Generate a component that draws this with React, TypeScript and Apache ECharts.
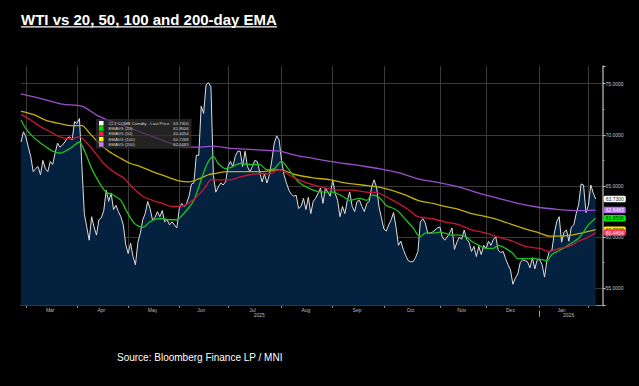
import React, { useEffect, useRef } from "react";
import * as echarts from "echarts";

// ---- text ----
const chartTitle = "WTI vs 20, 50, 100 and 200-day EMA";
const sourceNote = "Source: Bloomberg Finance LP / MNI";

// ---- calendar (NYMEX trading days) ----
const firstDay = "2025-02-27";
const lastAxisDay = "2026-02-10";
const exchangeHolidays = [
  "2025-04-18", "2025-05-26", "2025-06-19", "2025-07-04", "2025-09-01",
  "2025-11-27", "2025-12-25", "2026-01-01", "2026-01-19",
];
const monthNames = ["Jan", "Feb", "Mar", "Apr", "May", "Jun", "Jul", "Aug", "Sep", "Oct", "Nov", "Dec"];
const yearLabelMonths = ["2025-07", "2026-01"];

// ---- CL1 COMB Comdty, daily last price ----
const wtiClose = [
  // Feb
  69.3, 70.3,
  // Mar
  69.8, 68.8, 67.9, 66.4, 66.7, 66.9, 66.1, 67.5, 66.7, 66.4, 67.4, 67.1, 68.2, 69.2, 68.8, 69.0, 69.3, 69.7, 69.8, 69.5, 71.3,
  // Apr
  71.1, 71.6, 67.0, 62.3, 61.0, 59.7, 62.0, 61.0, 60.2, 61.7, 61.9, 62.6, 64.6, 63.5, 64.3, 62.7, 63.1, 62.5, 62.0, 61.2, 59.3,
  // May
  58.4, 59.4, 58.1, 57.3, 59.5, 60.4, 61.7, 62.3, 63.5, 62.8, 61.7, 61.9, 62.5, 62.0, 62.6, 61.5, 61.7, 61.2, 61.5, 61.2, 60.9,
  // Jun
  62.8, 63.3, 63.0, 63.3, 64.0, 65.2, 65.3, 68.0, 68.0, 72.8, 72.1, 74.9, 75.1, 74.7, 66.0, 64.4, 64.9, 65.3, 65.1, 65.4,
  // Jul
  66.9, 67.4, 66.9, 67.9, 68.4, 68.4, 66.9, 68.4, 66.9, 66.4, 66.9, 67.5, 67.4, 66.4, 65.4, 66.2, 65.3, 66.1, 67.5, 69.2, 69.9, 69.5,
  // Aug
  67.5, 66.1, 65.3, 64.6, 64.2, 64.0, 64.1, 62.8, 63.0, 63.8, 62.7, 63.9, 62.3, 63.5, 63.8, 64.3, 64.8, 63.3, 64.8, 64.4, 64.0,
  // Sep
  65.6, 64.3, 63.6, 62.0, 63.0, 62.3, 63.6, 64.4, 63.0, 62.5, 63.5, 63.6, 63.0, 62.5, 63.3, 63.5, 64.9, 65.6, 64.9, 63.0, 61.9,
  // Oct
  60.8, 60.6, 61.2, 61.7, 62.4, 61.0, 59.2, 59.6, 58.8, 58.2, 57.7, 57.6, 57.6, 58.0, 58.6, 61.5, 61.8, 61.4, 60.4, 60.4, 60.5, 60.7, 60.9,
  // Nov
  61.0, 60.0, 59.7, 60.0, 60.4, 60.9, 58.8, 59.5, 60.0, 59.8, 60.7, 59.8, 59.5, 58.6, 59.1, 58.1, 59.1, 58.3, 59.2,
  // Dec
  58.9, 59.6, 59.2, 59.8, 60.0, 58.7, 58.5, 58.6, 57.9, 57.3, 56.8, 55.4, 56.0, 56.4, 57.5, 57.8, 57.7, 57.6, 57.0, 58.0, 56.9, 57.8,
  // Jan
  57.8, 57.3, 56.1, 57.8, 58.6, 58.7, 60.4, 61.5, 62.0, 59.5, 60.5, 60.7, 59.6, 61.0, 61.2, 62.3, 63.2, 65.2, 65.1, 62.4,
  // Feb
  63.1, 65.1, 64.3, 63.73,
];

// ---- EMAVG readings as [trading-day index, value] ----
const ema20: [number, number][] = [
  [0, 71.45], [2, 70.6], [5, 69.8], [8, 69.2], [11, 68.7], [13, 68.4], [16, 68.2], [19, 68.5], [21, 68.8],
  [24, 69.3], [25, 69.0], [27, 67.9], [29, 66.7], [31, 65.8], [33, 65.0], [35, 64.4], [38, 64.1], [41, 63.6],
  [43, 62.7], [46, 61.5], [48, 61.1], [50, 60.95], [53, 61.5], [56, 61.8], [58, 61.8], [61, 61.7], [64, 61.7],
  [66, 62.1], [69, 62.9], [71, 63.6], [73, 64.9], [75, 66.3], [77, 67.4], [79, 67.9], [81, 67.2], [84, 66.7],
  [86, 66.8], [90, 67.2], [94, 67.1], [98, 67.1], [101, 66.6], [104, 66.7], [107, 67.4], [110, 66.6], [114, 65.4],
  [120, 64.6], [124, 64.4], [128, 64.4], [132, 64.0], [135, 63.6], [139, 63.8], [142, 63.6], [144, 64.1],
  [147, 63.9], [150, 63.1], [153, 62.8], [155, 62.5], [158, 61.7], [161, 60.9], [163, 60.2], [164, 60.05],
  [166, 60.4], [169, 60.4], [172, 60.5], [174, 60.4], [177, 60.2], [180, 60.2], [183, 60.0], [185, 59.6],
  [188, 59.2], [191, 58.9], [194, 58.9], [196, 59.2], [199, 58.9], [202, 58.4], [204, 57.9], [206, 57.9],
  [209, 57.9], [211, 57.9], [214, 57.8], [216, 57.7], [218, 58.3], [221, 58.7], [224, 59.1], [226, 59.4],
  [229, 59.9], [231, 60.5], [233, 61.2], [236, 61.8506],
];
const ema50: [number, number][] = [
  [0, 72.0], [4, 71.45], [8, 70.8], [12, 70.3], [16, 69.8], [20, 69.6], [24, 69.8], [27, 69.2], [30, 68.4],
  [34, 67.2], [38, 66.4], [42, 65.8], [46, 64.8], [50, 64.0], [54, 63.6], [58, 63.3], [62, 63.0], [65, 63.0],
  [68, 63.2], [71, 63.7], [74, 64.4], [76, 65.0], [78, 65.6], [82, 65.6], [86, 65.6], [90, 65.9], [94, 66.1],
  [98, 66.2], [102, 66.2], [106, 66.6], [110, 66.1], [114, 65.6], [120, 65.1], [125, 64.8], [131, 64.6],
  [136, 64.6], [142, 64.4], [147, 64.3], [151, 63.8], [155, 63.3], [159, 62.7], [163, 62.0], [169, 61.8],
  [174, 61.5], [180, 61.2], [185, 60.7], [191, 60.4], [196, 60.0], [202, 59.6], [207, 59.1], [213, 58.9],
  [217, 58.6], [221, 58.9], [225, 59.1], [229, 59.6], [233, 60.0], [236, 60.4454],
];
const ema100: [number, number][] = [
  [0, 72.3], [5, 72.0], [10, 71.45], [16, 71.1], [21, 70.9], [25, 70.9], [28, 70.2], [32, 69.2], [36, 68.4],
  [41, 67.7], [45, 67.2], [49, 66.9], [54, 66.4], [60, 65.9], [65, 65.5], [69, 65.4], [73, 65.7], [77, 66.1],
  [79, 66.2], [85, 66.4], [92, 66.4], [99, 66.4], [106, 66.6], [113, 66.1], [120, 65.8], [127, 65.6],
  [133, 65.3], [140, 65.1], [147, 64.9], [152, 64.6], [158, 64.1], [163, 63.6], [169, 63.3], [174, 63.0],
  [180, 62.7], [185, 62.3], [191, 62.0], [196, 61.7], [202, 61.2], [207, 60.8], [213, 60.4], [217, 60.1],
  [221, 60.1], [226, 60.2], [230, 60.4], [236, 60.7268],
];
const ema200: [number, number][] = [
  [0, 74.0], [9, 73.5], [17, 73.0], [25, 72.8], [32, 71.8], [41, 71.0], [50, 70.2], [60, 69.3], [68, 68.8],
  [73, 68.8], [79, 68.9], [85, 68.7], [92, 68.6], [99, 68.5], [106, 68.4], [113, 68.0], [120, 67.7],
  [127, 67.4], [133, 67.2], [140, 66.96], [147, 66.7], [155, 66.3], [163, 65.7], [172, 65.3], [180, 64.9],
  [188, 64.3], [196, 63.8], [204, 63.3], [213, 62.9], [221, 62.7], [229, 62.6], [236, 62.6483],
];

const seriesNames = [
  "CL1 COMB Comdty - Last Price",
  "EMAVG (20)",
  "EMAVG (50)",
  "EMAVG (100)",
  "EMAVG (200)",
];

const FONT = '"Liberation Sans", Arial, sans-serif';

function tradingDays(start: string, end: string, holidays: string[]): string[] {
  const out: string[] = [];
  const d = new Date(start + "T00:00:00Z");
  const e = new Date(end + "T00:00:00Z");
  while (d <= e) {
    const dow = d.getUTCDay();
    const iso = d.toISOString().slice(0, 10);
    if (dow !== 0 && dow !== 6 && !holidays.includes(iso)) out.push(iso);
    d.setUTCDate(d.getUTCDate() + 1);
  }
  return out;
}

function measure(text: string, font: string): number {
  const ctx = document.createElement("canvas").getContext("2d");
  if (!ctx) return text.length * 7.5;
  ctx.font = font;
  return ctx.measureText(text).width;
}

export default function App() {
  const ref = useRef<HTMLDivElement>(null);

  useEffect(() => {
    if (!ref.current) return;
    const chart = echarts.init(ref.current, undefined, { renderer: "svg" });

    const days = tradingDays(firstDay, lastAxisDay, exchangeHolidays);

    // month groups on the trading-day axis
    const groups: { key: string; start: number; end: number }[] = [];
    days.forEach((d, i) => {
      const k = d.slice(0, 7);
      const g = groups[groups.length - 1];
      if (g && g.key === k) g.end = i;
      else groups.push({ key: k, start: i, end: i });
    });
    const monthStarts = new Set(groups.slice(1).map((g) => g.start));
    const labelAt = new Map<number, string>(
      groups.slice(1, -1).map((g) => [Math.floor((g.start + g.end) / 2), g.key] as [number, string])
    );
    const yearStart = groups.find((g) => g.key.endsWith("-01"))!.start;

    const last = (a: [number, number][]) => a[a.length - 1][1];
    const lastVals = [wtiClose[wtiClose.length - 1], last(ema20), last(ema50), last(ema100), last(ema200)];
    const lastByName: Record<string, string> = {};
    seriesNames.forEach((n, i) => (lastByName[n] = lastVals[i].toFixed(4)));

    const legendColors = ["#ffffff", "#00e000", "#ff1a3c", "#ffff00", "#c77dff"];
    const lineColors = ["#dedede", "#1fc01f", "#c8163a", "#c4b100", "#9b4fcf"];
    const tagBg = ["#ffffff", "#00ee00", "#ff3355", "#ffee00", "#b06ee8"];
    const tagFg = ["#222222", "#111111", "#ffffff", "#111111", "#ffffff"];

    const endTag = (i: number) => ({
      show: true,
      formatter: () => lastVals[i].toFixed(4),
      distance: 8,
      fontSize: 5,
      fontFamily: FONT,
      color: tagFg[i],
      backgroundColor: tagBg[i],
      padding: [1, 2, 0.5, 2],
      borderRadius: 1.5,
    });

    const titleFont = `bold 15px ${FONT}`;
    const titleW = measure(chartTitle, titleFont);

    const emaSeries = (i: number, data: [number, number][]) => ({
      name: seriesNames[i],
      type: "line",
      data,
      symbol: "none",
      smooth: 0.3,
      itemStyle: { color: legendColors[i] },
      lineStyle: { color: lineColors[i], width: 1.3 },
      endLabel: endTag(i),
      emphasis: { disabled: true },
    });

    chart.setOption({
      animation: false,
      backgroundColor: "#000000",
      grid: { left: 21, right: 36, top: 66, bottom: 80.3 },
      legend: {
        data: seriesNames.map((n, i) => ({ name: n, itemStyle: { color: legendColors[i] } })),
        orient: "vertical",
        left: 96,
        top: 119,
        icon: "rect",
        itemWidth: 4.5,
        itemHeight: 4.5,
        itemGap: 0.8,
        padding: [2, 3, 2, 3],
        backgroundColor: "rgba(48,48,48,0.72)",
        selectedMode: false,
        textStyle: {
          color: "#d4d4d4",
          fontSize: 4.3,
          fontFamily: FONT,
          rich: {
            n: { width: 64, fontSize: 4.3, lineHeight: 5, color: "#d4d4d4", fontFamily: FONT },
            v: { width: 16, align: "right", fontSize: 4.2, lineHeight: 5, color: "#d4d4d4", fontFamily: FONT },
          },
        },
        formatter: (name: string) => `{n|${name}}{v|${lastByName[name]}}`,
      },
      xAxis: [
        {
          type: "category",
          data: days,
          boundaryGap: false,
          axisLine: { show: true, lineStyle: { color: "#8c8c8c", width: 1 } },
          axisTick: {
            show: true,
            interval: (i: number) => monthStarts.has(i),
            length: 2,
            lineStyle: { color: "#a0a0a0" },
          },
          axisLabel: {
            interval: (i: number) => labelAt.has(i),
            formatter: (_v: string, i: number) => {
              const key = labelAt.get(i);
              if (!key) return "";
              const m = monthNames[Number(key.slice(5, 7)) - 1];
              return yearLabelMonths.includes(key) ? `${m}\n{yr|${key.slice(0, 4)}}` : m;
            },
            color: "#bdbdbd",
            fontSize: 5,
            lineHeight: 5.4,
            fontFamily: FONT,
            margin: 1.5,
            rich: { yr: { fontSize: 5, lineHeight: 5.4, color: "#bdbdbd", padding: [0, 0, 0, 14], fontFamily: FONT } },
          },
          splitLine: {
            show: true,
            interval: (i: number) => monthStarts.has(i),
            lineStyle: { color: "#3a3a3a", width: 1 },
          },
        },
        {
          // year divider tick below the month labels
          type: "category",
          data: days,
          boundaryGap: false,
          position: "bottom",
          offset: 5,
          axisLine: { show: false },
          axisTick: {
            show: true,
            interval: (i: number) => i === yearStart,
            length: 6,
            lineStyle: { color: "#a0a0a0" },
          },
          axisLabel: { show: false },
          splitLine: { show: false },
        },
      ],
      yAxis: {
        type: "value",
        position: "right",
        min: 53.3,
        max: 76.73,
        axisLine: { show: true, lineStyle: { color: "#9c9c9c", width: 1.5 } },
        axisTick: { show: true, length: 2.5, lineStyle: { color: "#c0c0c0" } },
        minorTick: { show: true, splitNumber: 2, length: 1.5, lineStyle: { color: "#9a9a9a" } },
        axisLabel: {
          color: "#c6c6c6",
          fontSize: 5,
          fontFamily: FONT,
          margin: 2.5,
          showMinLabel: false,
          showMaxLabel: false,
          formatter: (v: number) => v.toFixed(4),
        },
        splitLine: {
          show: true,
          showMinLine: false,
          showMaxLine: false,
          lineStyle: { color: "#3a3a3a", width: 1 },
        },
        minorSplitLine: { show: false },
      },
      series: [
        {
          name: seriesNames[0],
          type: "line",
          data: wtiClose,
          symbol: "none",
          itemStyle: { color: legendColors[0] },
          lineStyle: { color: lineColors[0], width: 1 },
          areaStyle: { color: "#04213f", opacity: 1, origin: "start" },
          endLabel: endTag(0),
          emphasis: { disabled: true },
        },
        emaSeries(4, ema200),
        emaSeries(3, ema100),
        emaSeries(1, ema20),
        emaSeries(2, ema50),
      ],
      graphic: [
        {
          type: "text",
          left: 21,
          top: 11.5,
          style: { text: chartTitle, fill: "#ffffff", font: titleFont },
        },
        {
          type: "line",
          shape: { x1: 21, y1: 26.8, x2: 21 + titleW, y2: 26.8 },
          style: { stroke: "#ffffff", lineWidth: 1.3 },
        },
        {
          type: "text",
          left: 117,
          top: 352.5,
          style: { text: sourceNote, fill: "#ffffff", font: `10px ${FONT}` },
        },
      ],
    });

    return () => chart.dispose();
  }, []);

  return (
    <div
      ref={ref}
      style={{ position: "fixed", left: 0, top: 0, width: 639, height: 386, background: "#000" }}
    />
  );
}
